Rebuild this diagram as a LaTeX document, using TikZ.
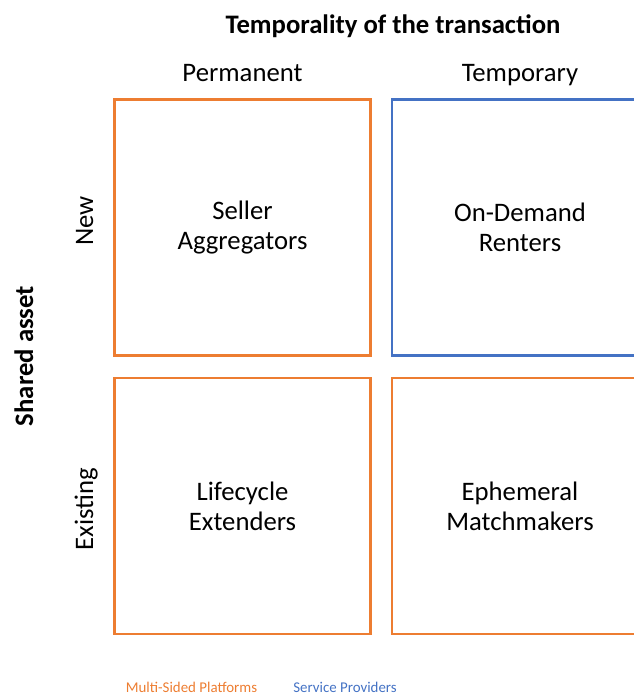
\documentclass[tikz,border=0pt]{standalone}
\usepackage{fontspec}
\setmainfont{Carlito}
\definecolor{msporange}{HTML}{ED7D31}
\definecolor{spblue}{HTML}{4472C4}

\begin{document}
\begin{tikzpicture}[x=1pt, y=-1pt,
  cell/.style={draw, line width=2.3pt, minimum width=256pt, minimum height=256pt, inner sep=0pt, align=center, font=\fontsize{26.7}{30}\selectfont},
  head/.style={anchor=base, font=\fontsize{26.7}{30}\selectfont},
  legend/.style={anchor=base, inner sep=1pt, font=\fontsize{14.9}{17}\selectfont}]
  \useasboundingbox (0,0) rectangle (634,697);
  \node[head, font=\fontsize{26.7}{30}\selectfont\bfseries] (title) at (393,33) {Temporality of the transaction};
  \node[head] (perm) at (242.5,81) {Permanent};
  \node[head] (temp) at (520,81) {Temporary};
  \node[head, rotate=90, font=\fontsize{26.7}{30}\selectfont\bfseries] (shared) at (33,356) {Shared asset};
  \node[head, rotate=90] (new) at (93,221) {New};
  \node[head, rotate=90] (existing) at (93,509) {Existing};
  \node[cell, draw=msporange] (seller) at (242.5,227.5) {Seller\\Aggregators};
  \node[cell, draw=spblue] (renters) at (520,227.5) {On-Demand\\Renters};
  \node[cell, draw=msporange] (lifecycle) at (242.5,506) {Lifecycle\\Extenders};
  \node[cell, draw=msporange] (ephemeral) at (520,506) {Ephemeral\\Matchmakers};
  \node[legend, text=msporange] (msp) at (191.5,692) {Multi-Sided Platforms};
  \node[legend, text=spblue] (sp) at (345,692) {Service Providers};
\end{tikzpicture}
\end{document}
